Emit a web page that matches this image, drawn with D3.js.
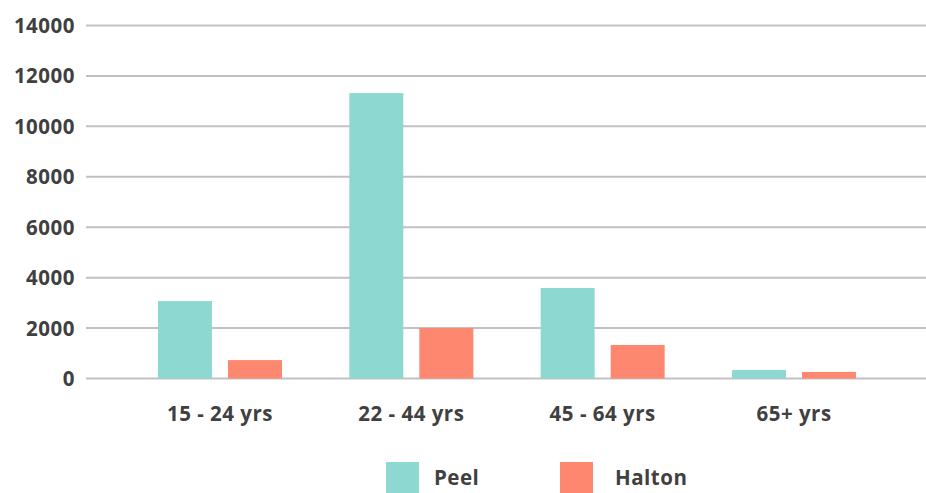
<!DOCTYPE html>
<html><head><meta charset="utf-8">
<script src="https://cdn.jsdelivr.net/npm/d3@7"></script>
<style>
body{margin:0;background:#fff;}
text{font-family:"Open Sans",sans-serif;font-weight:700;fill:#404040;letter-spacing:0.5px;}
</style></head>
<body><svg id="c" width="926" height="493"></svg>
<script>
const categories = ["15 - 24 yrs", "22 - 44 yrs", "45 - 64 yrs", "65+ yrs"];
const seriesNames = ["Peel", "Halton"];
const peel = [3070, 11320, 3590, 340];
const halton = [730, 2000, 1330, 260];
const yTicks = [0, 2000, 4000, 6000, 8000, 10000, 12000, 14000];
const colors = ["#8ed8d2", "#fe8770"];

(function(){
const svg = d3.select("#c");
const mLeft = 86, mRight = 926, mTop = 25.5, mBottom = 378.5;
const fs = "20.5px";
const y = d3.scaleLinear().domain([0, 14000]).range([mBottom, mTop]);
const x0 = d3.scaleBand().domain(categories).range([mLeft, mRight]).paddingInner(0).paddingOuter(0.195);
const x1 = d3.scaleBand().domain(seriesNames).range([0, 124]).paddingInner(0.229);

svg.append("g").selectAll("line").data(yTicks).join("line")
  .attr("x1", mLeft).attr("x2", mRight)
  .attr("y1", d => y(d)).attr("y2", d => y(d))
  .attr("stroke", "#c1c0c5").attr("stroke-width", 2);

svg.append("g").selectAll("text").data(yTicks).join("text")
  .attr("x", 75).attr("y", d => y(d) + 7.5)
  .attr("text-anchor", "end").style("font-size", fs)
  .text(d => d);

const data = categories.map((c, i) => ({c, vals: [peel[i], halton[i]]}));
const groups = svg.append("g").selectAll("g").data(data).join("g")
  .attr("transform", d => `translate(${x0(d.c) + x0.bandwidth()/2 - 61},0)`);
groups.selectAll("rect").data(d => d.vals.map((v, j) => ({s: seriesNames[j], v, j}))).join("rect")
  .attr("x", d => x1(d.s)).attr("width", x1.bandwidth())
  .attr("y", d => y(d.v)).attr("height", d => y(0) - y(d.v))
  .attr("fill", d => colors[d.j]);

svg.append("g").selectAll("text").data(categories).join("text")
  .attr("x", d => x0(d) + x0.bandwidth()/2 + 1).attr("y", 421)
  .attr("text-anchor", "middle").style("font-size", fs)
  .text(d => d);

const legX = [386, 560];
const legTextX = [48, 55];
const leg = svg.append("g").selectAll("g").data(seriesNames).join("g")
  .attr("transform", (d, i) => `translate(${legX[i]},462)`);
leg.append("rect").attr("width", 33).attr("height", 31).attr("fill", (d, i) => colors[i]);
leg.append("text").attr("x", (d, i) => legTextX[i]).attr("y", 23).style("font-size", fs).text(d => d);
})();
</script></body></html>
